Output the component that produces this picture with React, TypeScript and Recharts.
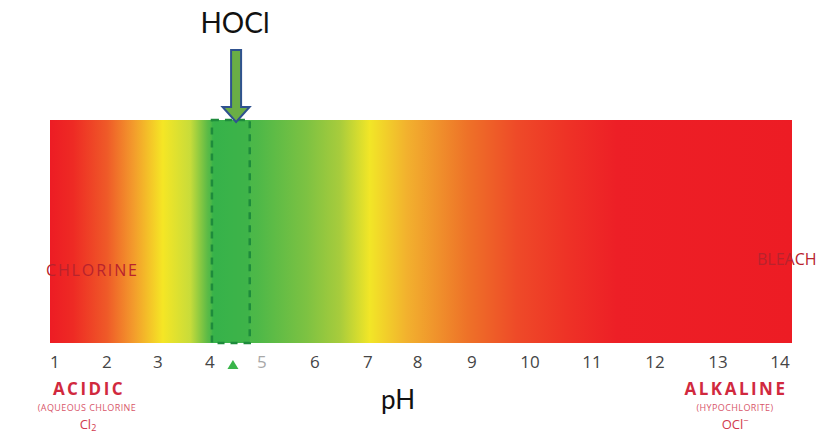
import React from "react";
import {
  ComposedChart, Area, XAxis, YAxis, ReferenceArea, ReferenceDot,
} from "recharts";

// pH scale as printed (spacing on the source scale is not perfectly even)
const phLabels = ["1", "2", "3", "4", "5", "6", "7", "8", "9", "10", "11", "12", "13", "14"];
const phTickPos = [1, 1.99, 2.96, 3.95, 4.94, 5.95, 6.96, 7.91, 8.94, 10.05, 11.23, 12.43, 13.63, 14.81];
const phDomain = [0.905, 15.04];

// full colour bar
const barData = [
  { ph: 0.905, level: 1 },
  { ph: 15.04, level: 1 },
];

// HOCl window
const hoclBand = [3.99, 4.71];
const hoclMarker = 4.39;
const hoclArrow = 4.45;

const STOPS: Array<[number, string]> = [
  [0, "#ED1C24"], [0.031, "#EE2A24"], [0.077, "#EF5A28"], [0.112, "#F39A2C"],
  [0.152, "#F5E625"], [0.189, "#C8DC3A"], [0.212, "#5DBB46"], [0.222, "#39B54A"],
  [0.279, "#4DB848"], [0.346, "#7DC242"], [0.391, "#A8CC3C"], [0.431, "#F2E627"],
  [0.481, "#F2B12E"], [0.516, "#F0962C"], [0.562, "#EE7228"], [0.629, "#EE4A28"],
  [0.697, "#EE3226"], [0.764, "#ED1F26"], [1, "#ED1C24"],
];

const labelFor = (v: number) => phLabels[phTickPos.indexOf(v)] ?? "";

const PhTick = (props: any) => {
  const { x, payload } = props;
  const label = labelFor(payload.value);
  return (
    <text x={x} y={368} textAnchor="middle" fontFamily="Open Sans" fontSize={17}
      fill={label === "5" ? "#a8a8a8" : "#454545"}>
      {label}
    </text>
  );
};

const Arrow = (props: any) => {
  const { cx, cy } = props;
  const tip = cy + 2;
  const d = `M${cx - 5},${cy - 70} L${cx + 5},${cy - 70} L${cx + 5},${cy - 13} L${cx + 13.5},${cy - 13} L${cx},${tip} L${cx - 13.5},${cy - 13} L${cx - 5},${cy - 13} Z`;
  return <path d={d} fill="#6AAE45" stroke="#2F528F" strokeWidth={2} strokeLinejoin="miter" />;
};

const Marker = (props: any) => {
  const { cx, cy } = props;
  return <path d={`M${cx},${cy - 5} L${cx + 5.5},${cy + 4} L${cx - 5.5},${cy + 4} Z`} fill="#39B54A" />;
};

export default function App() {
  return (
    <div style={{ position: "absolute", left: 0, top: 0, width: 817, height: 444, background: "#fff" }}>
      <ComposedChart width={817} height={444} data={barData}
        margin={{ top: 120, right: 25, bottom: 71, left: 50 }}>
        <defs>
          <linearGradient id="phGrad" x1="0" y1="0" x2="1" y2="0">
            {STOPS.map(([o, c]) => <stop key={o} offset={o} stopColor={c} />)}
          </linearGradient>
        </defs>
        <XAxis dataKey="ph" type="number" domain={phDomain} ticks={phTickPos}
          height={30} axisLine={false} tickLine={false} tick={<PhTick />} interval={0} />
        <YAxis hide domain={[0, 1]} />
        <Area dataKey="level" type="linear" fill="url(#phGrad)" fillOpacity={1}
          stroke="none" baseValue={0} isAnimationActive={false} />
        <ReferenceArea x1={hoclBand[0]} x2={hoclBand[1]} y1={0} y2={1}
          fill="#33B04A" fillOpacity={0.5} stroke="#1E8B3C" strokeWidth={2.5}
          strokeDasharray="7 6" />
        <ReferenceDot x={hoclArrow} y={1} r={0} shape={<Arrow />} ifOverflow="visible" />
        <ReferenceDot x={hoclMarker} y={-0.099} r={0} shape={<Marker />} ifOverflow="visible" />
      </ComposedChart>

      <svg width={817} height={444} style={{ position: "absolute", left: 0, top: 0, pointerEvents: "none" }}>
        <text x={235} y={33} textAnchor="middle" fontFamily="Lato" fontSize={28} fill="#111">HOCl</text>
        <text x={398} y={409} textAnchor="middle" fontFamily="Lato" fontSize={26} fill="#111">pH</text>

        <text x={46} y={276} fontFamily="Open Sans" fontSize={16} fill="#B8232D" textLength={91}>CHLORINE</text>
        <text x={757} y={265} fontFamily="Open Sans" fontSize={16} fill="#B8232D">BLEACH</text>

        <text x={89} y={395} textAnchor="middle" fontFamily="Open Sans" fontWeight={700}
          fontSize={17} letterSpacing={2.5} fill="#D1293E">ACIDIC</text>
        <text x={87} y={411} textAnchor="middle" fontFamily="Open Sans" fontSize={9}
          letterSpacing={0.4} fill="#D8566A">(AQUEOUS CHLORINE</text>
        <text x={88} y={429} textAnchor="middle" fontFamily="Open Sans" fontSize={13} fill="#D1394D">
          Cl<tspan fontSize={9} dy={2}>2</tspan>
        </text>

        <text x={736} y={395} textAnchor="middle" fontFamily="Open Sans" fontWeight={700}
          fontSize={17} letterSpacing={2.5} fill="#D1293E">ALKALINE</text>
        <text x={735} y={411} textAnchor="middle" fontFamily="Open Sans" fontSize={9}
          letterSpacing={0.4} fill="#D8566A">(HYPOCHLORITE)</text>
        <text x={735} y={429} textAnchor="middle" fontFamily="Open Sans" fontSize={13} fill="#D1394D">
          OCl<tspan fontSize={9} dy={-5}>−</tspan>
        </text>
      </svg>
    </div>
  );
}
